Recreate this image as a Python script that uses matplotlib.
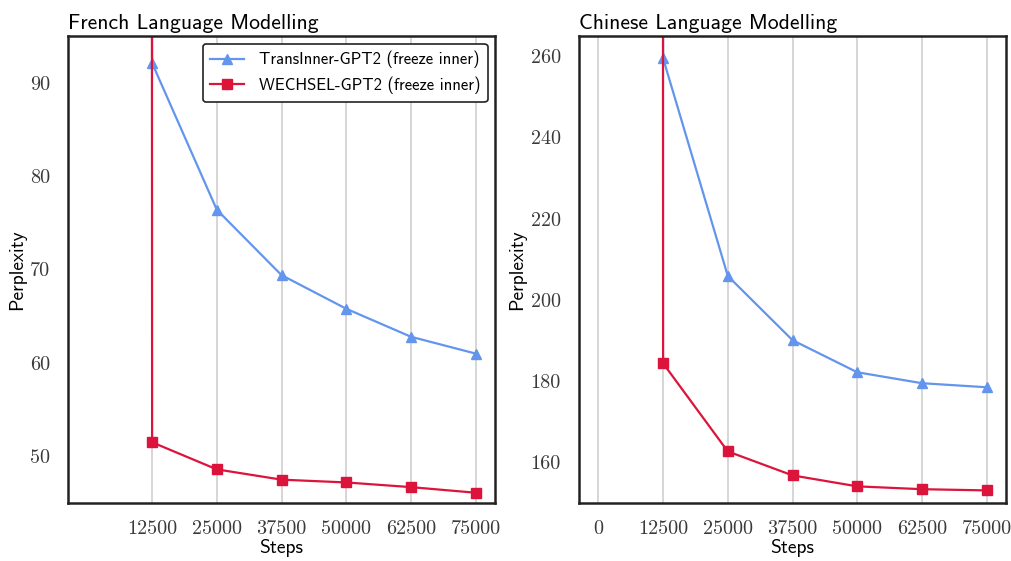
import matplotlib
matplotlib.use("Agg")
import matplotlib.pyplot as plt

plt.rcParams['mathtext.fontset'] = 'cm'
plt.rcParams['axes.formatter.use_mathtext'] = True

# training steps and perplexities (step 0 is the untrained model, far off the top)
steps = [0, 12500, 25000, 37500, 50000, 62500, 75000]

fr_transinner = [21500, 92.1, 76.4, 69.4, 65.8, 62.8, 61.0]
fr_wechsel = [18200, 51.5, 48.6, 47.5, 47.2, 46.7, 46.1]

zh_transinner = [64000, 259.5, 205.9, 190.1, 182.2, 179.5, 178.5]
zh_wechsel = [52000, 184.4, 162.7, 156.8, 154.1, 153.4, 153.1]

fr_ticks = [12500, 25000, 37500, 50000, 62500, 75000]
zh_ticks = [0, 12500, 25000, 37500, 50000, 62500, 75000]

BLUE = '#6495ED'
RED = '#DC143C'
SANS = 'cmss10'
SERIF = 'cmr10'

fig = plt.figure(figsize=(10.11, 5.61), dpi=100)
ax1 = fig.add_axes([68 / 1011, 1 - 503 / 561, 427 / 1011, 467 / 561])
ax2 = fig.add_axes([579 / 1011, 1 - 503 / 561, 427 / 1011, 467 / 561])


def draw(ax, title, blue, red, ticks, ylim, yticks):
    ax.plot(steps, blue, color=BLUE, marker='^', markersize=7.5, linewidth=1.6,
            label='TransInner-GPT2 (freeze inner)')
    ax.plot(steps, red, color=RED, marker='s', markersize=7.5, linewidth=1.6,
            label='WECHSEL-GPT2 (freeze inner)')
    ax.set_xlim(-3750, 78750)
    ax.set_ylim(*ylim)
    ax.set_xticks(ticks)
    ax.set_xticklabels([str(t) for t in ticks], fontfamily=SERIF, fontsize=14.5, color='#3a3a3a')
    ax.set_yticks(yticks)
    ax.set_yticklabels([str(t) for t in yticks], fontfamily=SERIF, fontsize=14.5, color='#3a3a3a')
    ax.tick_params(axis='x', length=0, pad=12)
    ax.tick_params(axis='y', length=0, pad=13)
    ax.grid(axis='x', color='#d0d0d0', linewidth=1.2)
    ax.set_axisbelow(True)
    for s in ax.spines.values():
        s.set_color('#222222')
        s.set_linewidth(1.8)
    ax.set_xlabel('Steps', fontfamily=SANS, fontsize=14, labelpad=1)
    ax.set_ylabel('Perplexity', fontfamily=SANS, fontsize=14, labelpad=3)
    ax.set_title(title, fontfamily=SANS, fontsize=15.6, loc='left', pad=5)


draw(ax1, 'French Language Modelling', fr_transinner, fr_wechsel,
     fr_ticks, (45, 95), [50, 60, 70, 80, 90])
draw(ax2, 'Chinese Language Modelling', zh_transinner, zh_wechsel,
     zh_ticks, (150, 265), [160, 180, 200, 220, 240, 260])

leg = ax1.legend(loc='upper right', prop={'family': SANS, 'size': 12},
                 framealpha=1, edgecolor='#222222', borderpad=0.45,
                 handlelength=2.0, handletextpad=0.9, borderaxespad=0.45,
                 bbox_to_anchor=(1, 1))
leg.get_frame().set_linewidth(1.2)

fig.savefig('out.png', dpi=100)
